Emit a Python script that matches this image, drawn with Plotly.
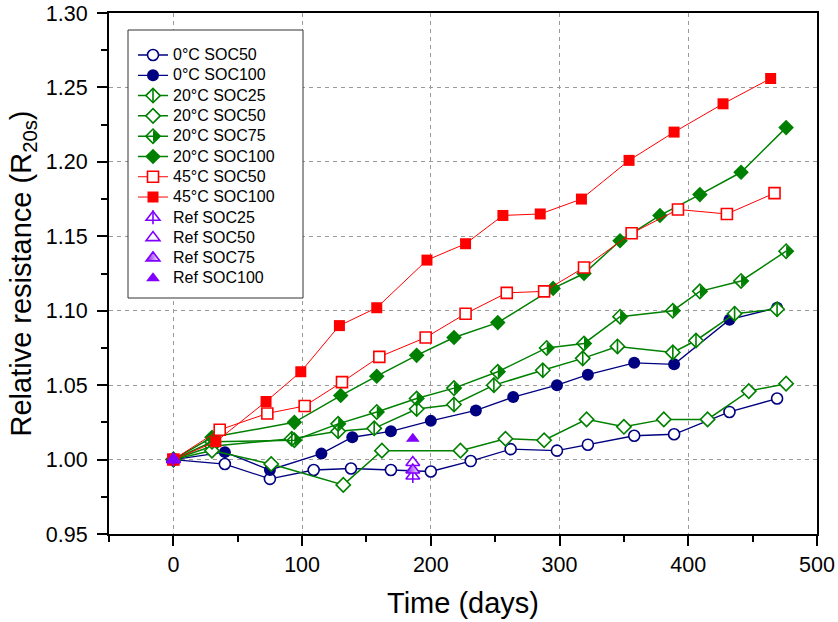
import plotly.graph_objects as go

# ---------------- data ----------------
t_0C_SOC50 = [0, 40, 75, 109, 138, 169, 200, 231, 262, 298, 322, 358, 389, 432, 469]
r_0C_SOC50 = [1.000, 0.997, 0.987, 0.993, 0.994, 0.993, 0.992, 0.999, 1.007, 1.006, 1.010, 1.016, 1.017, 1.032, 1.041]

t_0C_SOC100 = [0, 40, 75, 115, 139, 169, 200, 235, 264, 298, 322, 358, 389, 432, 469]
r_0C_SOC100 = [1.000, 1.005, 0.993, 1.004, 1.015, 1.019, 1.026, 1.033, 1.042, 1.050, 1.057, 1.065, 1.064, 1.094, 1.102]

t_20C_SOC25 = [0, 30, 92, 128, 156, 189, 218, 249, 287, 318, 345, 388, 406, 436, 469]
r_20C_SOC25 = [1.000, 1.009, 1.014, 1.019, 1.021, 1.034, 1.037, 1.050, 1.060, 1.068, 1.076, 1.072, 1.080, 1.098, 1.101]

t_20C_SOC50 = [0, 30, 76, 132, 162, 223, 258, 288, 321, 350, 381, 415, 447, 476]
r_20C_SOC50 = [1.000, 1.006, 0.997, 0.983, 1.006, 1.006, 1.014, 1.013, 1.027, 1.022, 1.027, 1.027, 1.046, 1.051]

t_20C_SOC75 = [0, 30, 94, 128, 158, 189, 218, 252, 290, 319, 347, 388, 409, 441, 476]
r_20C_SOC75 = [1.000, 1.012, 1.013, 1.024, 1.032, 1.041, 1.048, 1.059, 1.075, 1.078, 1.096, 1.100, 1.113, 1.120, 1.140]

t_20C_SOC100 = [0, 30, 94, 130, 158, 189, 218, 252, 295, 319, 347, 378, 409, 441, 476]
r_20C_SOC100 = [1.000, 1.015, 1.025, 1.043, 1.056, 1.070, 1.082, 1.092, 1.115, 1.125, 1.147, 1.164, 1.178, 1.193, 1.223]

t_45C_SOC50 = [0, 36, 73, 102, 131, 160, 196, 227, 259, 288, 319, 356, 392, 430, 467]
r_45C_SOC50 = [1.000, 1.020, 1.031, 1.036, 1.052, 1.069, 1.082, 1.098, 1.112, 1.113, 1.129, 1.152, 1.168, 1.165, 1.179]

t_45C_SOC100 = [0, 33, 72, 99, 129, 158, 197, 227, 256, 285, 317, 354, 389, 427, 464]
r_45C_SOC100 = [1.000, 1.012, 1.039, 1.059, 1.090, 1.102, 1.134, 1.145, 1.164, 1.165, 1.175, 1.201, 1.220, 1.239, 1.256]

t_ref = [0, 186]
r_ref_SOC25 = [1.000, 0.989]
r_ref_SOC50 = [1.000, 0.998]
r_ref_SOC75 = [1.000, 0.993]
r_ref_SOC100 = [1.000, 1.014]

x_ticks = [0, 100, 200, 300, 400, 500]
y_ticks = [0.95, 1.00, 1.05, 1.10, 1.15, 1.20, 1.25, 1.30]

# ---------------- styling ----------------
FONT = "Liberation Sans, Arial, sans-serif"
NAVY = "#000080"
GREEN = "#008000"
RED = "#FF0000"
VIOLET = "#8000FF"
LEG_FS = 13.3          # sets the row pitch of the legend
LEG_TXT = 16           # visible size of the legend labels

W, H = 838, 622
ML, MR, MT, MB = 109, 21, 13, 88
PW, PH = W - ML - MR, H - MT - MB


def px_x(p):
    return (p - ML) / PW


def px_y(p):
    return (H - MB - p) / PH


def lab(s):
    return "<span style='font-size:%dpx'>%s</span>" % (LEG_TXT, s)


fig = go.Figure()


def series(x, y, name, color, symbol, size, lw, filled, mode="lines+markers", extra=None):
    marker = dict(symbol=symbol, size=size, color=color if filled else "white",
                  line=dict(color=color, width=1.6 if not filled else 0))
    if extra:
        marker.update(extra)
    fig.add_trace(go.Scatter(x=x, y=y, name=lab(name), mode=mode,
                             line=dict(color=color, width=lw), marker=marker,
                             legend="legend", cliponaxis=False))


def overlay(x, y, color, symbol, size, filled, extra=None):
    marker = dict(symbol=symbol, size=size, color=color,
                  line=dict(color=color, width=0 if filled else 1.6))
    if extra:
        marker.update(extra)
    fig.add_trace(go.Scatter(x=x, y=y, mode="markers", marker=marker,
                             showlegend=False, hoverinfo="skip", cliponaxis=False))


DS = 11  # diamond size
HALF = dict(angle=-90, standoff=DS * 0.93 / 4)

series(t_0C_SOC50, r_0C_SOC50, "0°C SOC50", NAVY, "circle", 11, 1.3, False)
series(t_0C_SOC100, r_0C_SOC100, "0°C SOC100", NAVY, "circle", 12, 1.3, True)

series(t_20C_SOC25, r_20C_SOC25, "20°C SOC25", GREEN, "diamond", DS, 1.5, False)
overlay(t_20C_SOC25, r_20C_SOC25, GREEN, "line-ns", DS * 0.93, False)
series(t_20C_SOC50, r_20C_SOC50, "20°C SOC50", GREEN, "diamond", DS, 1.5, False)
overlay(t_20C_SOC75, r_20C_SOC75, GREEN, "triangle-down", DS * 0.93, True, HALF)
series(t_20C_SOC75, r_20C_SOC75, "20°C SOC75", GREEN, "diamond", DS, 1.5, False,
       extra=dict(color="rgba(0,0,0,0)"))
series(t_20C_SOC100, r_20C_SOC100, "20°C SOC100", GREEN, "diamond", DS + 1, 1.5, True)

series(t_45C_SOC50, r_45C_SOC50, "45°C SOC50", RED, "square", 11, 1.0, False)
series(t_45C_SOC100, r_45C_SOC100, "45°C SOC100", RED, "square", 11, 1.0, True)

series(t_ref, r_ref_SOC25, "Ref SOC25", VIOLET, "triangle-up", 12, 1, False, mode="markers")
overlay(t_ref, r_ref_SOC25, VIOLET, "line-ns", 10, False)
series(t_ref, r_ref_SOC50, "Ref SOC50", VIOLET, "triangle-up", 12, 1, False, mode="markers")
series(t_ref, r_ref_SOC75, "Ref SOC75", VIOLET, "triangle-up", 12, 1, True, mode="markers",
       extra=dict(gradient=dict(type="horizontal", color="white"), line=dict(color=VIOLET, width=1.6)))
series(t_ref, r_ref_SOC100, "Ref SOC100", VIOLET, "triangle-up", 12, 1, True, mode="markers")

row_h = LEG_FS * 1.3 + 3
leg_top = 55 - 5 - row_h / 2
leg_common = dict(x=px_x(133), xanchor="left", yanchor="top",
                  font=dict(family=FONT, size=LEG_FS, color="black"), borderwidth=0,
                  bgcolor="rgba(0,0,0,0)", tracegroupgap=0,
                  itemclick=False, itemdoubleclick=False)

# extra one-entry legends that add the inner details of composite legend symbols
details = [(2, "line-ns", GREEN, DS * 0.93, None),
           (4, "triangle-up", GREEN, DS * 0.93, dict(angle=90, standoff=DS * 0.93 / 4)),
           (8, "line-ns", VIOLET, 10, None)]
extra_legends = {}
for k, (row, sym, col, sz, ex) in enumerate(details):
    lname = "legend%d" % (k + 2)
    mk = dict(symbol=sym, size=sz, color=col, line=dict(color=col, width=1.6 if sym == "line-ns" else 0))
    if ex:
        mk.update(ex)
    fig.add_trace(go.Scatter(x=[None], y=[None], mode="markers", name="\u200b", marker=mk,
                             legend=lname, showlegend=True, hoverinfo="skip"))
    extra_legends[lname] = dict(y=px_y(leg_top + row * row_h), **leg_common)

axis_common = dict(
    showline=True, linecolor="black", linewidth=2, mirror=True,
    ticks="outside", ticklen=10, tickwidth=2, tickcolor="black",
    showgrid=True, gridcolor="#9a9a9a", gridwidth=1, griddash="4px,4px",
    zeroline=False, automargin=False,
    tickfont=dict(family=FONT, size=21.5, color="black"),
)

fig.update_xaxes(
    range=[-50, 500], tickvals=x_ticks, ticktext=[str(v) for v in x_ticks],
    minor=dict(dtick=50, tick0=0, ticks="outside", ticklen=6, tickwidth=2, tickcolor="black", showgrid=False),
    title=dict(text="Time (days)", font=dict(family=FONT, size=29, color="black"), standoff=17),
    **axis_common)
fig.update_yaxes(
    range=[0.95, 1.30], tickvals=y_ticks, ticktext=["%.2f" % v for v in y_ticks],
    ticklabelstandoff=5,
    minor=dict(dtick=0.025, tick0=0.95, ticks="outside", ticklen=6, tickwidth=2, tickcolor="black", showgrid=False),
    title=dict(text="Relative resistance (R<sub>20s</sub>)", font=dict(family=FONT, size=29, color="black"), standoff=6),
    **axis_common)

fig.update_layout(
    width=W, height=H,
    margin=dict(l=ML, r=MR, t=MT, b=MB),
    paper_bgcolor="white", plot_bgcolor="white",
    font=dict(family=FONT, color="black"),
    legend=dict(y=px_y(leg_top), **leg_common),
    shapes=[dict(type="rect", xref="paper", yref="paper",
                 x0=px_x(128), x1=px_x(303), y0=px_y(298), y1=px_y(30),
                 line=dict(color="#333333", width=1), fillcolor="white", layer="above")],
    **extra_legends,
)

fig.write_html("out.html", config={"displayModeBar": False},
               post_script="document.body.style.margin='0';document.body.style.overflow='hidden';")
